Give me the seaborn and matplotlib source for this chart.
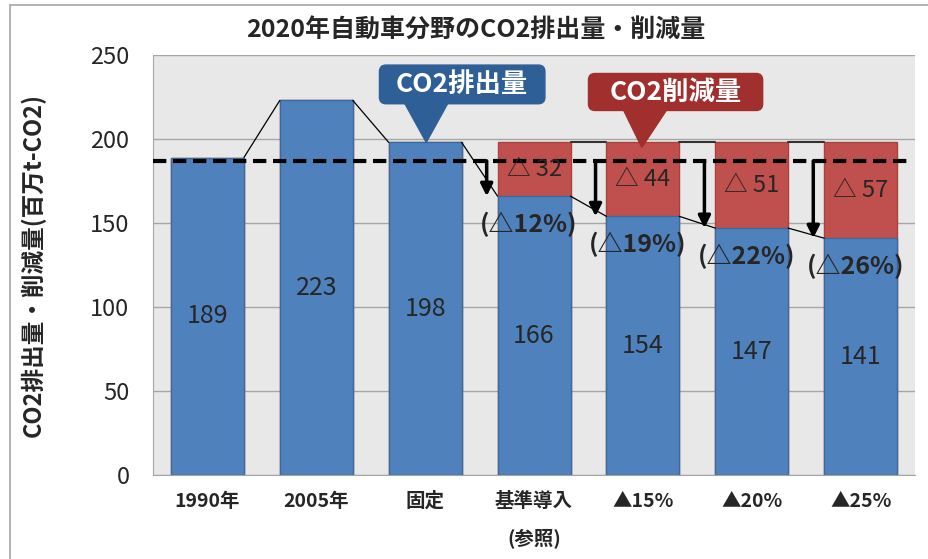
import matplotlib
matplotlib.use("Agg")
import pandas as pd
import matplotlib.pyplot as plt
import seaborn as sns
from matplotlib.patches import FancyBboxPatch, Polygon

# -----------------------------
# データ
# -----------------------------
categories = ["1990年", "2005年", "固定", "基準導入\n(参照)", "▲15%", "▲20%", "▲25%"]
emissions = [189, 223, 198, 166, 154, 147, 141]
reductions = [0, 0, 0, 32, 44, 51, 57]
reduction_pct = ["", "", "", "(△12%)", "(△19%)", "(△22%)", "(△26%)"]
baseline = 187

df = pd.DataFrame({"cat": categories, "emission": emissions, "reduction": reductions})
df["total"] = df["emission"] + df["reduction"]

sns.set_style("white")
plt.rcParams["font.family"] = ["Noto Sans CJK JP", "DejaVu Sans"]

BLUE = "#4f81bd"
RED = "#c0504d"

fig = plt.figure(figsize=(9.29, 5.59), dpi=100)
ax = fig.add_axes([0.1647, 0.150, 0.8203, 0.7516])
ax.set_facecolor("#e8e8e8")

# 削減量（赤）を合計の高さで先に描いて、その上に排出量（青）
sns.barplot(data=df, x="cat", y="total", order=categories, color=RED, saturation=1,
            width=0.67, edgecolor="#a9413e", linewidth=1, ax=ax, zorder=2)
sns.barplot(data=df, x="cat", y="emission", order=categories, color=BLUE, saturation=1,
            width=0.67, edgecolor="#3d6a9c", linewidth=1, ax=ax, zorder=3)

ax.set_ylim(0, 250)
ax.set_xlim(-0.5, len(categories) - 0.5)
ax.set_yticks(range(0, 251, 50))
ax.yaxis.grid(True, color="#a6a6a6", linewidth=1, zorder=0)
ax.set_axisbelow(True)
for s in ["top", "right"]:
    ax.spines[s].set_visible(False)
ax.spines["left"].set_color("#a6a6a6")
ax.spines["bottom"].set_color("#a6a6a6")
ax.tick_params(axis="y", labelsize=17, length=0, pad=17)
ax.tick_params(axis="x", length=0, pad=12)
ax.set_xticks(range(len(categories)))
ax.set_xticklabels(categories, fontsize=14, fontweight="bold", linespacing=2.1, va="top")
ax.set_xlabel("")
ax.set_ylabel("CO2排出量・削減量(百万t-CO2)", fontsize=17, fontweight="bold")
ax.yaxis.set_label_coords(-0.14, 0.5)

# 棒の上端をつなぐ線
w = 0.67 / 2
for i in range(len(categories) - 1):
    ax.plot([i + w, i + 1 - w], [emissions[i], emissions[i + 1]], color="black", lw=0.9, zorder=4)
    if reductions[i] > 0 and reductions[i + 1] > 0:
        ax.plot([i + w, i + 1 - w], [df["total"][i], df["total"][i + 1]], color="#333333", lw=1.5, zorder=4)

# 基準線（破線）
ax.axhline(baseline, xmin=0, xmax=0.99, color="black", lw=3, ls=(0, (3.2, 1.6)), zorder=6)

# 値ラベル・矢印
for i, (e, r) in enumerate(zip(emissions, reductions)):
    ax.text(i, e / 2, str(e), ha="center", va="center", fontsize=18, zorder=7)
    if r > 0:
        ax.text(i, e + r / 2, f"△ {r}", ha="center", va="center", fontsize=17, zorder=7)
        ax.annotate("", xy=(i - w - 0.1, e), xytext=(i - w - 0.1, baseline),
                    arrowprops=dict(arrowstyle="-|>", color="black", lw=2.5, mutation_scale=18,
                                    shrinkA=0, shrinkB=0), zorder=7)
        ax.text(i - 0.05, e - 17, reduction_pct[i], ha="center", va="center",
                fontsize=18, fontweight="bold", zorder=7)

# 吹き出し
def callout(x0, x1, y0, y1, tip, base, color, text):
    box = FancyBboxPatch((x0, y0), x1 - x0, y1 - y0, boxstyle="round,pad=0,rounding_size=0.06",
                         mutation_aspect=65, facecolor=color, edgecolor=color, zorder=8)
    ax.add_patch(box)
    tri = Polygon([(base[0], y0 + 0.5), (base[1], y0 + 0.5), tip], closed=True,
                  facecolor=color, edgecolor=color, zorder=8)
    ax.add_patch(tri)
    ax.text((x0 + x1) / 2, (y0 + y1) / 2, text, ha="center", va="center", color="white",
            fontsize=19, fontweight="bold", zorder=9)

callout(1.58, 3.10, 221, 244, (2.01, 198), (1.81, 2.21), "#2e5f96", "CO2排出量")
callout(3.50, 5.10, 217, 239, (3.99, 195), (3.82, 4.22), "#a02f2d", "CO2削減量")

fig.text(0.512, 0.945, "2020年自動車分野のCO2排出量・削減量", ha="center", va="center",
         fontsize=18, fontweight="bold")

# 外枠
fig.add_artist(plt.Line2D([0.011, 0.011], [0, 0.991], color="#a6a6a6", lw=1.2))
fig.add_artist(plt.Line2D([0.011, 1.0], [0.991, 0.991], color="#a6a6a6", lw=1.2))

fig.savefig("out.png", dpi=100)
